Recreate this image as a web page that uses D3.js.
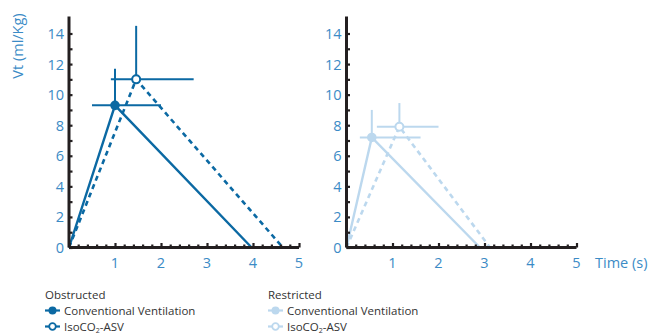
<!DOCTYPE html>
<html>
<head>
<meta charset="utf-8">
<script src="https://cdn.jsdelivr.net/npm/d3@7"></script>
<style>
  body { margin: 0; background: #fff; }
  text { font-family: "Open Sans", "DejaVu Sans", sans-serif; }
</style>
</head>
<body>
<div id="chart"></div>
<script>
// panel data: [time (s), Vt (ml/Kg)]
let obsConv = [[0, 0], [1.0, 9.3], [3.97, 0]];
let obsIso = [[0, 0], [1.46, 11.0], [4.65, 0]];
let resConv = [[0, 0], [0.55, 7.2], [2.9, 0]];
let resIso = [[0, 0], [1.15, 7.9], [3.12, 0]];

// error bars at the peak: [xLow, xHigh, yHigh]
let obsConvErr = [0.5, 2.0, 11.7];
let obsIsoErr = [0.91, 2.71, 14.5];
let resConvErr = [0.29, 1.61, 9.0];
let resIsoErr = [0.66, 2.0, 9.45];

let yTickLabels = [0, 2, 4, 6, 8, 10, 12, 14];
let xTickLabels = [1, 2, 3, 4, 5];

let darkBlue = "#0b69a3";
let lightBlue = "#bcd8ee";
let labelBlue = "#3b8bc6";

let width = 649, height = 333;

let svg = d3.select("#chart").append("svg")
    .attr("width", width)
    .attr("height", height);

let y = d3.scaleLinear().domain([0, 14]).range([247.5, 33.5]);

let drawPanel = (x0, conv, iso, convErr, isoErr, color) => {
  let x = d3.scaleLinear().domain([0, 5]).range([x0, x0 + 230]);
  let g = svg.append("g");

  let line = d3.line().x(d => x(d[0])).y(d => y(d[1]));

  // error bars
  [[conv, convErr], [iso, isoErr]].forEach(([s, e]) => {
    let peak = s[1];
    g.append("line")
      .attr("x1", x(e[0])).attr("x2", x(e[1]))
      .attr("y1", y(peak[1])).attr("y2", y(peak[1]))
      .attr("stroke", color).attr("stroke-width", 2);
    g.append("line")
      .attr("x1", x(peak[0])).attr("x2", x(peak[0]))
      .attr("y1", y(peak[1])).attr("y2", y(e[2]))
      .attr("stroke", color).attr("stroke-width", 2);
  });

  g.append("path").datum(iso)
    .attr("d", line)
    .attr("fill", "none")
    .attr("stroke", color)
    .attr("stroke-width", 2.6)
    .attr("stroke-dasharray", "5,4");

  g.append("path").datum(conv)
    .attr("d", line)
    .attr("fill", "none")
    .attr("stroke", color)
    .attr("stroke-width", 2.4);

  g.append("circle")
    .attr("cx", x(conv[1][0])).attr("cy", y(conv[1][1]))
    .attr("r", 4.8).attr("fill", color);
  g.append("circle")
    .attr("cx", x(iso[1][0])).attr("cy", y(iso[1][1]))
    .attr("r", 4).attr("fill", "#fff")
    .attr("stroke", color).attr("stroke-width", 2);

  // axes
  let yAxis = d3.axisRight(y).ticks(14).tickSize(3.5).tickFormat("");
  let ya = g.append("g").attr("transform", `translate(${x0},0)`).call(yAxis);

  let xMinor = d3.range(0, 5.01, 0.2).map(v => Math.round(v * 10) / 10);
  let xAxis = d3.axisTop(x).tickValues(xMinor)
    .tickSize(3).tickFormat("");
  let xa = g.append("g").attr("transform", `translate(0,${y(0)})`).call(xAxis);
  xa.selectAll(".tick line").filter(d => Number.isInteger(d)).attr("y2", -4.5);

  [ya, xa].forEach(a => {
    a.select(".domain").attr("stroke", "#231f20").attr("stroke-width", 3);
    a.selectAll(".tick line").attr("stroke", "#231f20").attr("stroke-width", 2.2);
  });
  ya.select(".domain").attr("d", `M0,${y(0)}V16.5`);
  xa.select(".domain").attr("d", `M${x(0)},0H${x(5)}`);

  g.selectAll(".ylab").data(yTickLabels).enter().append("text")
    .attr("x", x0 - 5).attr("y", d => y(d) + 5.5)
    .attr("text-anchor", "end")
    .attr("font-size", 14.5)
    .attr("fill", labelBlue)
    .text(d => d);

  g.selectAll(".xlab").data(xTickLabels).enter().append("text")
    .attr("x", d => x(d)).attr("y", 268)
    .attr("text-anchor", "middle")
    .attr("font-size", 14.5)
    .attr("fill", labelBlue)
    .text(d => d);
};

drawPanel(69, obsConv, obsIso, obsConvErr, obsIsoErr, darkBlue);
drawPanel(346.5, resConv, resIso, resConvErr, resIsoErr, lightBlue);

svg.append("text")
  .attr("transform", "translate(23,46) rotate(-90)")
  .attr("text-anchor", "middle")
  .attr("font-size", 14.5)
  .attr("fill", labelBlue)
  .text("Vt (ml/Kg)");

svg.append("text")
  .attr("x", 595).attr("y", 268)
  .attr("font-size", 14.5)
  .attr("fill", labelBlue)
  .text("Time (s)");

// legends
let drawLegend = (lx, title, color) => {
  let g = svg.append("g").attr("class", "legend").attr("transform", `translate(${lx},0)`);
  g.append("text").attr("x", 0).attr("y", 299)
    .attr("font-size", 11.5).attr("fill", "#333").text(title);
  [["Conventional Ventilation", true], ["IsoCO", false]].forEach(([name, filled], i) => {
    let cy = 310.5 + i * 16;
    g.append("line").attr("x1", 0).attr("x2", 15).attr("y1", cy).attr("y2", cy)
      .attr("stroke", color).attr("stroke-width", 2.2);
    g.append("circle").attr("cx", 7.5).attr("cy", cy)
      .attr("r", filled ? 4 : 3.3)
      .attr("fill", filled ? color : "#fff")
      .attr("stroke", color).attr("stroke-width", filled ? 0 : 1.8);
    let t = g.append("text").attr("x", 19).attr("y", cy + 4)
      .attr("font-size", 11.5).attr("fill", "#333");
    t.append("tspan").text(name);
    if (!filled) {
      t.append("tspan").attr("font-size", 7).attr("dy", 2).text("2");
      t.append("tspan").attr("dy", -2).text("-ASV");
    }
  });
};

drawLegend(45, "Obstructed", darkBlue);
drawLegend(268, "Restricted", lightBlue);
</script>
</body>
</html>
